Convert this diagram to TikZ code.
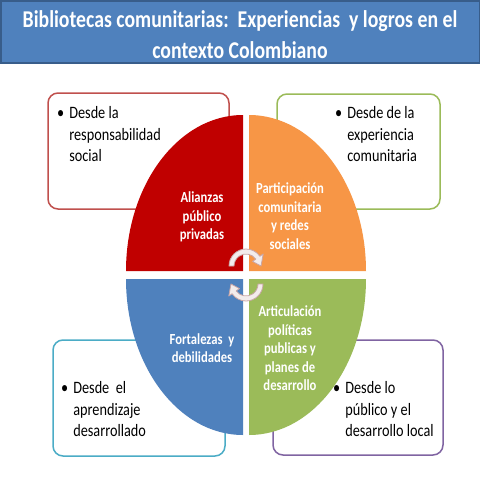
\documentclass[tikz,border=0pt]{standalone}
\usepackage{fontspec}
\setmainfont{Carlito}[FakeStretch=0.82]
\definecolor{titleblue}{HTML}{4F81BD}
\definecolor{titleedge}{HTML}{385D8A}
\definecolor{qred}{HTML}{C00000}
\definecolor{qorange}{HTML}{F79646}
\definecolor{qblue}{HTML}{4F81BD}
\definecolor{qgreen}{HTML}{9BBB59}
\definecolor{bred}{HTML}{C0504D}
\definecolor{bgreen}{HTML}{9BBB59}
\definecolor{bcyan}{HTML}{4BACC6}
\definecolor{bpurple}{HTML}{8064A2}
\definecolor{arrfill}{HTML}{F3ECEC}
\definecolor{arredge}{HTML}{C9A6A6}
\tikzset{
  box/.style={draw, rounded corners=10pt, line width=1.5pt, fill=white, inner sep=0},
  qlabel/.style={text=white, font=\fontsize{15.4}{18.5}\selectfont\bfseries, align=center, inner sep=0},
  btext/.style={anchor=base west, inner sep=0, font=\fontsize{17.4}{21.5}\selectfont},
  cyclearrow/.style={fill=arrfill, draw=arredge, line width=0.8pt, line join=round}
}
\begin{document}
\begin{tikzpicture}[x=1pt,y=1pt]
\useasboundingbox (0,0) rectangle (480,-480);
% title
\fill[titleblue] (0,0) rectangle (480,-63);
\draw[titleedge, line width=1.5pt] (0.75,-0.75) rectangle (479.25,-63);
\node[font=\fontsize{24.1}{31}\selectfont\bfseries, text=white, align=center, inner sep=0] (title) at (240,-35)
  {Bibliotecas comunitarias:\ \ Experiencias\ \ y logros en el\\contexto Colombiano};
% boxes
\node[box, draw=bred, minimum width=181pt, minimum height=116pt] (boxtl) at (138.5,-151) {};
\node[box, draw=bgreen, minimum width=163pt, minimum height=115pt] (boxtr) at (358.5,-151.5) {};
\node[box, draw=bcyan, minimum width=172pt, minimum height=116pt] (boxbl) at (139,-398) {};
\node[box, draw=bpurple, minimum width=170pt, minimum height=115pt] (boxbr) at (358,-397.5) {};
% box texts
\node[btext] (ttl) at (57,-118.5) {\begin{tabular}[t]{@{}l@{\hspace{5pt}}l@{}}\textbullet & Desde la\\ & responsabilidad\\ & social\end{tabular}};
\node[btext] (ttr) at (335,-118.5) {\begin{tabular}[t]{@{}l@{\hspace{5pt}}l@{}}\textbullet & Desde de la\\ & experiencia\\ & comunitaria\end{tabular}};
\node[btext] (tbl) at (61,-393.5) {\begin{tabular}[t]{@{}l@{\hspace{5pt}}l@{}}\textbullet & Desde\ \ el\\ & aprendizaje\\ & desarrollado\end{tabular}};
\node[btext] (tbr) at (333,-393.5) {\begin{tabular}[t]{@{}l@{\hspace{5pt}}l@{}}\textbullet & Desde lo\\ & público y el\\ & desarrollo local\end{tabular}};
% quadrants
\fill[qred] (243,-271) -- (126,-271) arc[start angle=180, end angle=90, x radius=117, y radius=156] -- cycle;
\fill[qorange] (249,-271) -- (249,-115) arc[start angle=90, end angle=0, x radius=117, y radius=156] -- cycle;
\fill[qblue] (243,-279) -- (126,-279) arc[start angle=180, end angle=270, x radius=117, y radius=156] -- cycle;
\fill[qgreen] (249,-279) -- (366,-279) arc[start angle=0, end angle=-90, x radius=117, y radius=156] -- cycle;
% quadrant labels
\node[qlabel] (qa) at (202,-217) {Alianzas\\público\\privadas};
\node[qlabel] (qb) at (290,-216) {Participación\\comunitaria\\y redes\\sociales};
\node[qlabel] (qc) at (202,-348) {Fortalezas\ \ y\\debilidades};
\node[qlabel] (qd) at (290,-348.5) {Articulación\\políticas\\publicas y\\planes de\\desarrollo};
% cycle arrows
\coordinate (ca) at (246,-266);
\coordinate (cb) at (246,-284);
\draw[cyclearrow, shift={(ca)}] (180:17) arc[start angle=180, end angle=35, radius=17] -- (35:21) -- (0:15) -- (35:8) -- (35:12) arc[start angle=35, end angle=180, radius=12] -- cycle;
\draw[cyclearrow, shift={(cb)}] (0:17) arc[start angle=0, end angle=-145, radius=17] -- (-145:21) -- (-180:15) -- (-145:8) -- (-145:12) arc[start angle=-145, end angle=0, radius=12] -- cycle;
\end{tikzpicture}
\end{document}
